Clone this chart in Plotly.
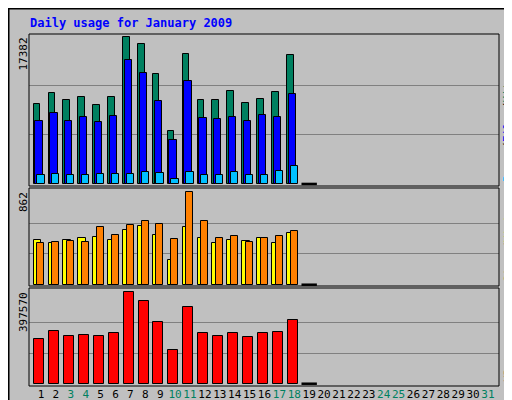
import plotly.graph_objects as go

days = list(range(1, 19))
all_days = list(range(1, 32))
weekend = [3, 4, 10, 11, 17, 18, 24, 25, 31]
hits = [9460,10760,9930,10290,9340,10290,17382,16550,13000,6270,15370,9930,9930,10990,9580,10050,10880,15250]
files = [7450,8390,7450,7920,7330,8040,14660,13120,9810,5200,12180,7800,7680,7920,7450,8160,7920,10640]
pages = [1060,1180,1060,1060,1180,1180,1180,1420,1300,590,1420,1060,1060,1420,1060,1060,1540,2130]
sites = [386,395,405,395,535,461,554,591,563,423,862,591,433,451,395,433,451,498]
visits = [414,386,414,433,442,414,507,545,461,227,535,433,386,414,405,433,386,479]
kbytes = [193000,227800,206000,210400,206000,219100,397570,358400,267000,145100,332300,219100,206000,219100,201700,219100,223500,275700]
empty_day = [19]

fig = go.Figure()
ol = dict(color="black", width=1)
def bar(x, y, color, off, w, ya):
    fig.add_bar(x=x, y=y, marker=dict(color=color, line=ol), offset=off, width=w,
                xaxis="x", yaxis=ya, showlegend=False)
bar(days, hits, "#008060", -0.49, 0.44, "y")
bar(days, files, "#0000FF", -0.38, 0.49, "y")
bar(days, pages, "#00C0FF", -0.25, 0.49, "y")
bar(days, visits, "#FFFF00", -0.49, 0.51, "y2")
bar(days, sites, "#FF8000", -0.25, 0.47, "y2")
bar(days, kbytes, "#FF0000", -0.45, 0.67, "y3")
for ya in ["y", "y2", "y3"]:
    fig.add_scatter(x=empty_day, y=[0], mode="markers", xaxis="x", yaxis=ya, showlegend=False,
                    marker=dict(symbol="line-ew-open", size=11, color="black",
                                line=dict(color="black", width=2.5)))

mh, ms, mk = max(hits), max(sites), max(kbytes)
def yax(dom, m, lo, hi):
    return dict(domain=dom, range=[lo*m, hi*m], tickvals=[m/3, 2*m/3], showticklabels=False,
                gridcolor="#808080", gridwidth=1, zeroline=False, showline=False, ticks="",
                fixedrange=True, automargin=False, anchor="x")
ticktext = [f"<span style='color:{'#008060' if d in weekend else 'black'}'>{d}</span>" for d in all_days]
fig.update_layout(
    width=512, height=400, autosize=False, margin=dict(l=0, r=0, t=0, b=0, pad=0),
    paper_bgcolor="#C0C0C0", plot_bgcolor="#C0C0C0", barmode="overlay", bargap=0,
    font=dict(family="DejaVu Sans Mono", size=11, color="black"),
    xaxis=dict(domain=[21/512, 491/512], range=[0.195, 31.74], tickvals=all_days, ticktext=ticktext,
               anchor="y3", showgrid=False, ticks="", tickangle=0, automargin=False,
               tickfont=dict(family="DejaVu Sans Mono", size=11)),
    yaxis=yax([1-178/400, 1-26/400], mh, -0.014, 1.02),
    yaxis2=yax([1-278/400, 1-180/400], ms, -0.014, 1.047),
    yaxis3=yax([1-378/400, 1-280/400], mk, -0.025, 1.048),
)
for (t, b) in [(26, 178), (180, 278), (280, 378)]:
    fig.add_shape(type="rect", xref="paper", yref="paper", x0=21/512, x1=491/512, y0=1-b/400, y1=1-t/400,
                  line=dict(color="black", width=1))
fig.add_shape(type="rect", xref="paper", yref="paper", x0=0.001, x1=0.999, y0=0.001, y1=0.999,
              line=dict(color="black", width=2))
fig.add_annotation(text="<b>Daily usage for January 2009</b>", xref="paper", yref="paper", x=20/512, y=1-15/400,
                   xanchor="left", yanchor="middle", showarrow=False, font=dict(color="#0000FF", size=12))
for lab, ypx in [(mh, 26), (ms, 180), (mk, 280)]:
    fig.add_annotation(text=str(lab), xref="paper", yref="paper", x=15/512, y=1-(ypx+2)/400, textangle=-90,
                       xanchor="center", yanchor="top", showarrow=False, font=dict(size=11))
def rlab(parts, ybot):
    txt = "<span style='color:black'>/</span>".join(f"<span style='color:{c}'>{s}</span>" for s, c in parts)
    fig.add_annotation(text=txt, xref="paper", yref="paper", x=500/512, y=1-ybot/400, textangle=-90,
                       xanchor="center", yanchor="bottom", showarrow=False, font=dict(size=11))
rlab([("Pages", "#00C0FF"), ("Files", "#0000FF"), ("Hits", "#008060")], 176)
rlab([("Sites", "#FF8000"), ("Visits", "#FFFF00")], 276)
rlab([("KBytes", "#FF0000")], 376)
fig.write_html("out.html")
